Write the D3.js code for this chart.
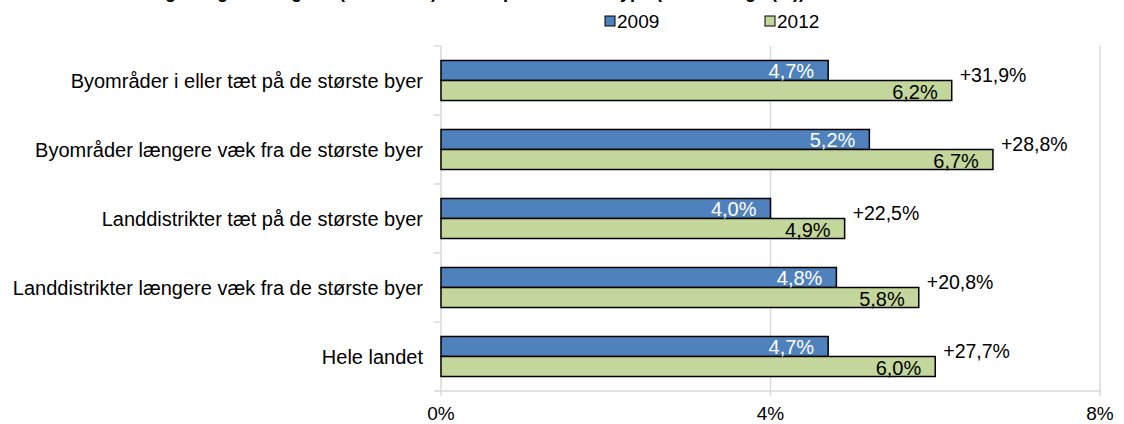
<!DOCTYPE html>
<html>
<head>
<meta charset="utf-8">
<script src="https://cdn.jsdelivr.net/npm/d3@7.9.0/dist/d3.min.js"></script>
<style>
  body { margin: 0; background: #fff; }
  svg { display: block; font-family: "Liberation Sans", Arial, sans-serif; }
</style>
</head>
<body>
<svg width="1124" height="424"></svg>
<script>
const categories = [
  'Byområder i eller tæt på de største byer',
  'Byområder længere væk fra de største byer',
  'Landdistrikter tæt på de største byer',
  'Landdistrikter længere væk fra de største byer',
  'Hele landet'
];
const seriesNames = ['2009', '2012'];
const values2009 = [4.7, 5.2, 4.0, 4.8, 4.7];
const values2012 = [6.2, 6.7, 4.9, 5.8, 6.0];
const changes = [31.9, 28.8, 22.5, 20.8, 27.7];
const xTicks = [0, 4, 8];

const colors = { '2009': '#4f81bd', '2012': '#c3d69b' };
const comma = (v, d) => d3.format(`.${d}f`)(v).replace('.', ',');

const svg = d3.select('svg');
const plotLeft = 441, plotRight = 1100, plotTop = 46, plotBottom = 391;

const x = d3.scaleLinear().domain([0, 8]).range([plotLeft, plotRight]);
const y = d3.scaleBand().domain(categories).range([plotTop, plotBottom]).paddingInner(0.42).paddingOuter(0.21);
const ySub = d3.scaleBand().domain(seriesNames).range([0, y.bandwidth()]);

// title (cut off at the top of the picture)
svg.append('text')
  .attr('x', 450).attr('y', -2)
  .attr('text-anchor', 'middle')
  .attr('font-size', 18).attr('font-weight', 'bold')
  .text('Udvikling i langtidsledighed (2009-2012) fordelt på kommunetype (andel ledige (%))');

// gridlines
svg.append('g').selectAll('line')
  .data(xTicks.filter(d => d > 0))
  .join('line')
  .attr('x1', d => x(d)).attr('x2', d => x(d))
  .attr('y1', plotTop).attr('y2', plotBottom + 5)
  .attr('stroke', '#d9d9d9').attr('stroke-width', 1.5);

// axes lines
svg.append('line')
  .attr('x1', plotLeft).attr('x2', plotRight).attr('y1', plotBottom).attr('y2', plotBottom)
  .attr('stroke', '#d9d9d9').attr('stroke-width', 1.5);
svg.append('line')
  .attr('x1', plotLeft).attr('x2', plotLeft).attr('y1', plotTop).attr('y2', plotBottom + 5)
  .attr('stroke', '#d9d9d9').attr('stroke-width', 1.5);

// category tick marks on the left axis
const bounds = d3.range(categories.length + 1).map(i => plotTop + i * (plotBottom - plotTop) / categories.length);
svg.append('g').selectAll('line')
  .data(bounds)
  .join('line')
  .attr('x1', plotLeft - 7).attr('x2', plotLeft)
  .attr('y1', d => d).attr('y2', d => d)
  .attr('stroke', '#d9d9d9').attr('stroke-width', 1.5);

// x tick labels
svg.append('g').selectAll('text')
  .data(xTicks)
  .join('text')
  .attr('x', d => x(d)).attr('y', 420)
  .attr('text-anchor', 'middle')
  .attr('font-size', 19).attr('fill', '#000')
  .text(d => d + '%');

// category labels
svg.append('g').selectAll('text')
  .data(categories)
  .join('text')
  .attr('x', 423)
  .attr('y', d => y(d) + y.bandwidth() / 2)
  .attr('dy', '0.35em')
  .attr('text-anchor', 'end')
  .attr('font-size', 20).attr('fill', '#000')
  .text(d => d);

// bars
const rows = categories.map((c, i) => ({ c, v: [values2009[i], values2012[i]], ch: changes[i] }));
const groups = svg.append('g').selectAll('g')
  .data(rows)
  .join('g')
  .attr('transform', d => `translate(0,${y(d.c)})`);

groups.selectAll('rect')
  .data(d => seriesNames.map((s, j) => ({ s, v: d.v[j] })))
  .join('rect')
  .attr('x', x(0))
  .attr('y', d => ySub(d.s))
  .attr('width', d => x(d.v) - x(0))
  .attr('height', ySub.bandwidth())
  .attr('fill', d => colors[d.s])
  .attr('stroke', '#000').attr('stroke-width', 1.5);

groups.selectAll('text.val')
  .data(d => seriesNames.map((s, j) => ({ s, v: d.v[j] })))
  .join('text')
  .attr('class', 'val')
  .attr('x', d => x(d.v) - 14)
  .attr('y', d => ySub(d.s) + ySub.bandwidth() - 2)
  .attr('text-anchor', 'end')
  .attr('font-size', 20)
  .attr('fill', d => d.s === '2009' ? '#fff' : '#000')
  .text(d => comma(d.v, 1) + '%');

groups.append('text')
  .attr('x', d => x(d.v[1]) + 8)
  .attr('y', d => y.bandwidth() / 2 + 2)
  .attr('font-size', 19.5).attr('fill', '#000')
  .text(d => '+' + comma(d.ch, 1) + '%');

// legend
const legend = svg.append('g');
const legendX = [605, 765];
seriesNames.forEach((s, i) => {
  legend.append('rect')
    .attr('x', legendX[i]).attr('y', 16)
    .attr('width', 10).attr('height', 10)
    .attr('fill', colors[s]).attr('stroke', '#000').attr('stroke-width', 1);
  legend.append('text')
    .attr('x', legendX[i] + 12).attr('y', 28)
    .attr('font-size', 19).attr('fill', '#000')
    .text(s);
});
</script>
</body>
</html>
